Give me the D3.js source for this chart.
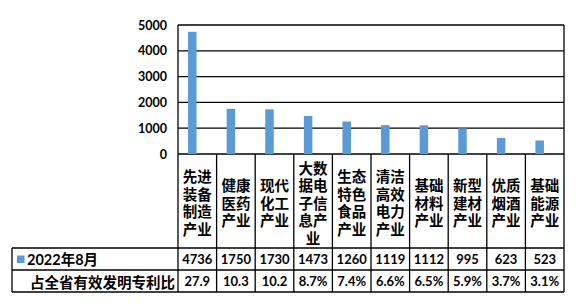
<!DOCTYPE html>
<html>
<head>
<meta charset="utf-8">
<script src="https://cdn.jsdelivr.net/npm/d3@7"></script>
<style>
  body { margin: 0; background: #fff; }
  text { font-weight: bold; fill: #000; }
</style>
</head>
<body>
<script>
const categories = ['先进装备制造产业', '健康医药产业', '现代化工产业', '大数据电子信息产业', '生态特色食品产业',
  '清洁高效电力产业', '基础材料产业', '新型建材产业', '优质烟酒产业', '基础能源产业']
const values = [4736, 1750, 1730, 1473, 1260, 1119, 1112, 995, 623, 523]
const shares = ['27.9', '10.3', '10.2', '8.7%', '7.4%', '6.6%', '6.5%', '5.9%', '3.7%', '3.1%']
const yTicks = [0, 1000, 2000, 3000, 4000, 5000]
const seriesName = '2022年8月'
const shareName = '占全省有效发明专利比'

const w = 576
const h = 304
const plotLeft = 178
const plotRight = 564
const plotTop = 25
const base = 154
const row1 = 248
const row2 = 270
const bottom = 292
const tableLeft = 12
const blue = '#5B9BD5'
const cjk = "'Noto Sans CJK SC', sans-serif"
const num = "Lato, 'Noto Sans CJK SC', sans-serif"

const svg = d3.select('body').append('svg')
  .attr('width', w)
  .attr('height', h)

const x = d3.scaleBand().domain(categories).range([plotLeft, plotRight])
const y = d3.scaleLinear().domain([0, 5000]).range([base, plotTop])

// gridlines
svg.selectAll('line.grid')
  .data(yTicks)
  .enter()
  .append('line')
  .attr('x1', plotLeft)
  .attr('x2', plotRight)
  .attr('y1', d => y(d))
  .attr('y2', d => y(d))
  .attr('stroke', '#000')
  .attr('stroke-width', 1.3)

// y axis labels
const yAxis = svg.append('g')
  .attr('transform', `translate(${plotLeft},0)`)
  .call(d3.axisLeft(y).tickValues(yTicks).tickSize(0).tickPadding(11).tickFormat(d3.format('d')))
yAxis.select('.domain').remove()
yAxis.selectAll('text')
  .style('font-family', num)
  .style('font-size', '12.5px')
  .style('font-weight', 'bold')
  .attr('fill', '#000')

// bars
svg.selectAll('rect.bar')
  .data(values)
  .enter()
  .append('rect')
  .attr('x', (d, i) => x(categories[i]) + x.bandwidth() / 2 - 9.25)
  .attr('width', 8.5)
  .attr('y', d => y(d))
  .attr('height', d => y(0) - y(d))
  .attr('fill', blue)

// table lines
const lines = [
  [plotLeft, plotTop, plotLeft, bottom],
  [plotRight, plotTop, plotRight, bottom],
  [tableLeft, row1, plotRight, row1],
  [tableLeft, row2, plotRight, row2],
  [tableLeft, bottom, plotRight, bottom],
  [tableLeft, row1, tableLeft, bottom]
]
categories.slice(1).forEach(c => lines.push([x(c), base, x(c), bottom]))
svg.selectAll('line.tbl')
  .data(lines)
  .enter()
  .append('line')
  .attr('x1', d => d[0]).attr('y1', d => d[1])
  .attr('x2', d => d[2]).attr('y2', d => d[3])
  .attr('stroke', '#000')
  .attr('stroke-width', 1.3)

// category labels, two characters per line
const lh = 17.5
categories.forEach(c => {
  const parts = c.match(/.{1,2}/g)
  const cy = (base + row1) / 2 + 1
  const t = svg.append('text')
    .attr('text-anchor', 'middle')
    .style('font-family', cjk)
    .style('font-size', '14.5px')
  parts.forEach((p, j) => {
    t.append('tspan')
      .attr('x', x(c) + x.bandwidth() / 2)
      .attr('y', cy + (j - (parts.length - 1) / 2) * lh)
      .attr('dominant-baseline', 'central')
      .text(p)
  })
})

// row 1: series
svg.append('rect')
  .attr('x', 17).attr('y', 255.5)
  .attr('width', 7.5).attr('height', 7.5)
  .attr('fill', blue)
svg.append('text')
  .attr('x', 27).attr('y', (row1 + row2) / 2)
  .attr('dominant-baseline', 'central')
  .style('font-family', num)
  .style('font-size', '14.5px')
  .text(seriesName)
svg.selectAll('text.v')
  .data(values)
  .enter()
  .append('text')
  .attr('x', (d, i) => x(categories[i]) + x.bandwidth() / 2)
  .attr('y', (row1 + row2) / 2)
  .attr('text-anchor', 'middle')
  .attr('dominant-baseline', 'central')
  .style('font-family', num)
  .style('font-size', '13px')
  .text(d => d)

// row 2: share
svg.append('text')
  .attr('x', 175).attr('y', (row2 + bottom) / 2)
  .attr('text-anchor', 'end')
  .attr('dominant-baseline', 'central')
  .style('font-family', cjk)
  .style('font-size', '14.5px')
  .text(shareName)
svg.selectAll('text.s')
  .data(shares)
  .enter()
  .append('text')
  .attr('x', (d, i) => x(categories[i]) + x.bandwidth() / 2)
  .attr('y', (row2 + bottom) / 2)
  .attr('text-anchor', 'middle')
  .attr('dominant-baseline', 'central')
  .style('font-family', num)
  .style('font-size', '13px')
  .text(d => d)
</script>
</body>
</html>
